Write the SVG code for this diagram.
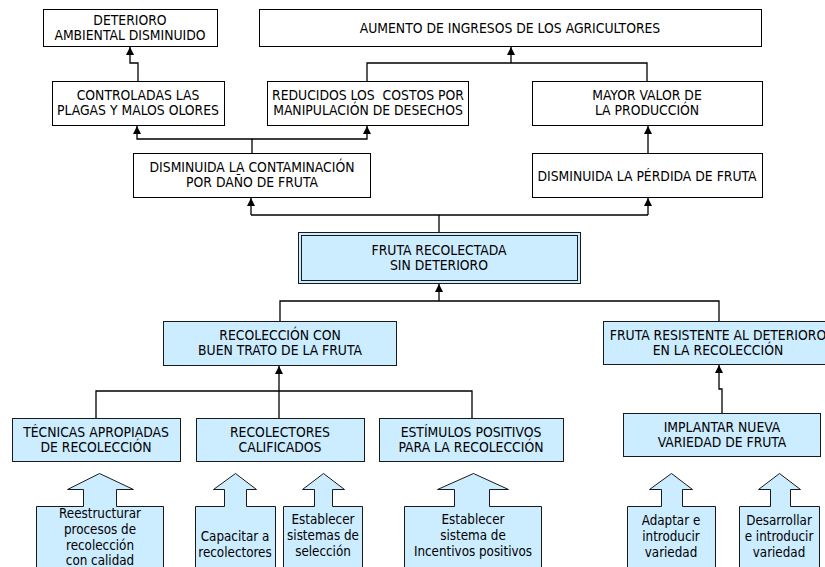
<svg xmlns="http://www.w3.org/2000/svg" width="825" height="567" viewBox="0 0 825 567">
  <style>
    .box { fill: #ffffff; stroke: #000000; stroke-width: 1; }
    .blue { fill: #ccecff; stroke: #1a1a1a; stroke-width: 1; }
    .lbl { font-family: "DejaVu Sans", sans-serif; font-stretch: condensed; font-size: 13.8px; fill: #000000; text-anchor: middle; }
    .small { font-family: "DejaVu Sans", sans-serif; font-stretch: condensed; font-size: 13.3px; fill: #000000; text-anchor: middle; }
    .link { fill: none; stroke: #000000; stroke-width: 1.3; }
  </style>
  <defs>
    <marker id="head" viewBox="0 0 8 8" refX="8" refY="4" markerWidth="8" markerHeight="8" markerUnits="userSpaceOnUse" orient="auto">
      <path d="M0,0 L8,4 L0,8 Z" fill="#000000"/>
    </marker>
  </defs>
  <rect width="825" height="567" fill="#ffffff"/>

  <!-- connectors -->
  <g id="connectors">
    <path class="link" d="M138,81 V63 H130 V47" marker-end="url(#head)"/>
    <path class="link" d="M252,153 V139 H137 V126" marker-end="url(#head)"/>
    <path class="link" d="M252,139 H367 V126" marker-end="url(#head)"/>
    <path class="link" d="M367,81 V63 H647 V81"/>
    <path class="link" d="M511,63 V47" marker-end="url(#head)"/>
    <path class="link" d="M648,153 V126" marker-end="url(#head)"/>
    <path class="link" d="M439,232 V215"/>
    <path class="link" d="M251,215 H648"/>
    <path class="link" d="M251,215 V198" marker-end="url(#head)"/>
    <path class="link" d="M648,215 V198" marker-end="url(#head)"/>
    <path class="link" d="M280,321 V301 H719 V321"/>
    <path class="link" d="M439,301 V284" marker-end="url(#head)"/>
    <path class="link" d="M96,418 V391 H472 V418"/>
    <path class="link" d="M279,418 V366" marker-end="url(#head)"/>
    <path class="link" d="M722,413 V389 H719 V365" marker-end="url(#head)"/>
  </g>

  <!-- upper effects -->
  <g id="deterioro">
    <rect class="box" x="43.5" y="9.5" width="174" height="37"/>
    <text class="lbl" x="130" y="25">DETERIORO</text>
    <text class="lbl" x="130" y="40">AMBIENTAL DISMINUIDO</text>
  </g>
  <g id="aumento">
    <rect class="box" x="259.5" y="9.5" width="502" height="37"/>
    <text class="lbl" x="510" y="33">AUMENTO DE INGRESOS DE LOS AGRICULTORES</text>
  </g>
  <g id="controladas">
    <rect class="box" x="52.5" y="81.5" width="172" height="44"/>
    <text class="lbl" x="138" y="100">CONTROLADAS LAS</text>
    <text class="lbl" x="138" y="115">PLAGAS Y MALOS OLORES</text>
  </g>
  <g id="reducidos">
    <rect class="box" x="267.5" y="81.5" width="201" height="44"/>
    <text class="lbl" x="368" y="100" style="white-space:pre">REDUCIDOS LOS  COSTOS POR</text>
    <text class="lbl" x="368" y="115">MANIPULACIÓN DE DESECHOS</text>
  </g>
  <g id="mayor">
    <rect class="box" x="532.5" y="81.5" width="230" height="44"/>
    <text class="lbl" x="647" y="100">MAYOR VALOR DE</text>
    <text class="lbl" x="647" y="115">LA PRODUCCIÓN</text>
  </g>
  <g id="contaminacion">
    <rect class="box" x="133.5" y="153.5" width="237" height="44"/>
    <text class="lbl" x="252" y="172">DISMINUIDA LA CONTAMINACIÓN</text>
    <text class="lbl" x="252" y="187">POR DAÑO DE FRUTA</text>
  </g>
  <g id="perdida">
    <rect class="box" x="532.5" y="153.5" width="230" height="44"/>
    <text class="lbl" x="647" y="181">DISMINUIDA LA PÉRDIDA DE FRUTA</text>
  </g>

  <!-- central objective -->
  <g id="fruta-recolectada">
    <rect class="blue" x="298.5" y="232.5" width="282" height="51"/>
    <rect fill="none" stroke="#1a1a1a" stroke-width="1" x="301.5" y="235.5" width="276" height="45"/>
    <text class="lbl" x="439" y="255">FRUTA RECOLECTADA</text>
    <text class="lbl" x="439" y="270">SIN DETERIORO</text>
  </g>

  <!-- means -->
  <g id="recoleccion">
    <rect class="blue" x="163.5" y="321.5" width="233" height="44"/>
    <text class="lbl" x="280" y="340">RECOLECCIÓN CON</text>
    <text class="lbl" x="280" y="355">BUEN TRATO DE LA FRUTA</text>
  </g>
  <g id="resistente">
    <rect class="blue" x="603.5" y="321.5" width="230" height="43"/>
    <text class="lbl" x="718" y="340">FRUTA RESISTENTE AL DETERIORO</text>
    <text class="lbl" x="718" y="355">EN LA RECOLECCIÓN</text>
  </g>
  <g id="tecnicas">
    <rect class="blue" x="12.5" y="418.5" width="168" height="43"/>
    <text class="lbl" x="96" y="437">TÉCNICAS APROPIADAS</text>
    <text class="lbl" x="96" y="452">DE RECOLECCIÓN</text>
  </g>
  <g id="recolectores">
    <rect class="blue" x="196.5" y="418.5" width="168" height="43"/>
    <text class="lbl" x="280" y="437">RECOLECTORES</text>
    <text class="lbl" x="280" y="452">CALIFICADOS</text>
  </g>
  <g id="estimulos">
    <rect class="blue" x="379.5" y="418.5" width="184" height="43"/>
    <text class="lbl" x="471" y="437">ESTÍMULOS POSITIVOS</text>
    <text class="lbl" x="471" y="452">PARA LA RECOLECCIÓN</text>
  </g>
  <g id="implantar">
    <rect class="blue" x="623.5" y="413.5" width="197" height="43"/>
    <text class="lbl" x="722" y="432">IMPLANTAR NUEVA</text>
    <text class="lbl" x="722" y="447">VARIEDAD DE FRUTA</text>
  </g>

  <!-- actions (up-arrow callouts) -->
  <g id="reestructurar">
    <path class="blue" d="M36.5,575 V506.5 H83.5 V489.5 H67.5 L99.5,473.5 L133.5,489.5 H116.5 V506.5 H163.5 V575"/>
    <text class="small" x="100" y="518">Reestructurar</text>
    <text class="small" x="100" y="534">procesos de</text>
    <text class="small" x="100" y="550">recolección</text>
    <text class="small" x="100" y="565">con calidad</text>
  </g>
  <g id="capacitar">
    <path class="blue" d="M195.5,575 V506.5 H224.5 V489.5 H213.5 L235.5,473.5 L256.5,489.5 H246.5 V506.5 H275.5 V575"/>
    <text class="small" x="235" y="541">Capacitar a</text>
    <text class="small" x="235" y="557">recolectores</text>
  </g>
  <g id="seleccion">
    <path class="blue" d="M283.5,575 V506.5 H314.5 V489.5 H302.5 L323.5,473.5 L344.5,489.5 H332.5 V506.5 H362.5 V575"/>
    <text class="small" x="323" y="524">Establecer</text>
    <text class="small" x="323" y="540">sistemas de</text>
    <text class="small" x="323" y="556">selección</text>
  </g>
  <g id="incentivos">
    <path class="blue" d="M404.5,575 V506.5 H454.5 V489.5 H437.5 L473.5,473.5 L508.5,489.5 H489.5 V506.5 H541.5 V575"/>
    <text class="small" x="473" y="524">Establecer</text>
    <text class="small" x="473" y="540">sistema de</text>
    <text class="small" x="473" y="556">Incentivos positivos</text>
  </g>
  <g id="adaptar">
    <path class="blue" d="M627.5,575 V506.5 H661.5 V489.5 H649.5 L671.5,473.5 L692.5,489.5 H682.5 V506.5 H715.5 V575"/>
    <text class="small" x="671" y="525">Adaptar e</text>
    <text class="small" x="671" y="541">introducir</text>
    <text class="small" x="671" y="557">variedad</text>
  </g>
  <g id="desarrollar">
    <path class="blue" d="M739.5,575 V506.5 H770.5 V489.5 H758.5 L779.5,473.5 L800.5,489.5 H790.5 V506.5 H819.5 V575"/>
    <text class="small" x="779" y="525">Desarrollar</text>
    <text class="small" x="779" y="541">e introducir</text>
    <text class="small" x="779" y="557">variedad</text>
  </g>
</svg>
